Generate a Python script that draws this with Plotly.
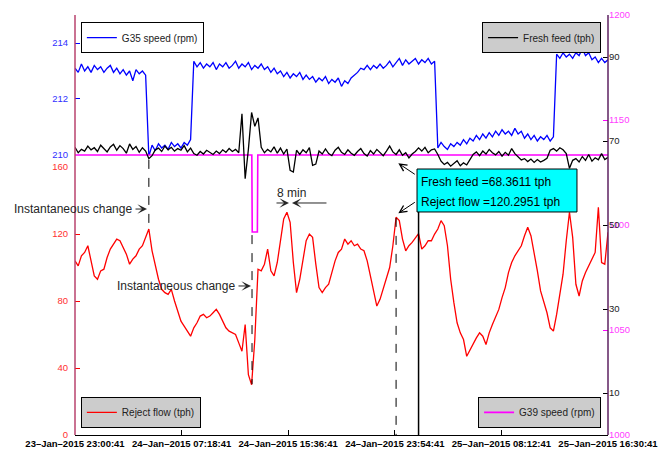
import pandas as pd
import plotly.graph_objects as go

# ---------------- data ----------------
start_time = "2015-01-23 23:00:41"      # first sample, 15-minute sampling
sample_minutes = 15
end_minutes = 2490

reject_flow = [
    104, 101, 107, 109, 113, 104, 95, 93, 98, 99,
    106, 111, 114, 117, 116, 112, 108, 102, 105, 107,
    111, 113, 118, 123, 110, 101, 93, 87, 85, 84,
    87, 80, 74, 68, 65, 62, 59, 64, 67, 71,
    72, 70, 71, 73, 75, 72, 68, 64, 62, 61,
    60, 55, 50, 66, 36, 30, 57, 99, 98, 102,
    111, 98, 95, 103, 115, 129, 133, 127, 103, 85,
    93, 106, 116, 120, 118, 102, 88, 85, 88, 90,
    97, 104, 109, 111, 117, 114, 116, 113, 114, 111,
    110, 104, 95, 86, 77, 81, 87, 94, 100, 113,
    130, 128, 117, 110, 113, 115, 118, 120.2951, 111, 113,
    116, 116, 120, 123, 128, 125, 113, 93, 79, 67,
    61, 57, 47, 51, 55, 58, 61, 59, 54, 61,
    66, 70, 75, 82, 88, 97, 103, 107, 110, 113,
    119, 124, 119, 109, 98, 86, 80, 73, 64, 62,
    72, 83, 96, 116, 133, 118, 90, 83, 92, 97,
    101, 104, 109, 136, 103, 102, 121,
]

g35_speed = [
    213.10, 212.95, 213.25, 213.00, 213.15, 212.95, 213.20, 213.05, 213.15, 212.95,
    213.10, 213.20, 212.95, 213.10, 212.90, 213.05, 212.85, 213.00, 212.65, 213.05,
    212.90, 213.00, 212.85,
    209.95, 210.35, 210.15, 210.40, 210.25, 210.35, 210.20, 210.45, 210.30, 210.40,
    210.25, 210.45, 210.35, 210.55,
    213.35, 213.15, 213.30, 213.10, 213.25, 213.15, 213.30, 213.05, 213.25, 213.15,
    213.30, 213.10, 213.20, 213.35, 213.10, 213.25, 213.15, 213.30, 213.05, 213.20,
    213.10, 213.25, 213.05, 213.15, 212.95, 213.10, 212.90, 213.00, 212.80, 212.95,
    212.75, 212.90, 212.80, 212.95, 212.70, 212.85, 212.70, 212.80, 212.60, 212.75,
    212.65, 212.80, 212.55, 212.70, 212.60, 212.75, 212.45, 212.65, 212.55, 212.75,
    212.85, 212.95, 213.10, 213.05, 213.20, 213.05, 213.20, 213.10, 213.25, 213.10,
    213.20, 213.35, 213.15, 213.30, 213.45, 213.20, 213.40, 213.25, 213.35, 213.45,
    213.25, 213.40, 213.30, 213.45, 213.25, 213.35,
    210.25, 210.45, 210.30, 210.20, 210.40, 210.30, 210.45, 210.35, 210.55, 210.40,
    210.60, 210.50, 210.70, 210.55, 210.75, 210.60, 210.80, 210.65, 210.85, 210.70,
    210.90, 210.75, 210.85, 210.70, 210.95, 210.75, 210.85, 210.60, 210.75, 210.55,
    210.70, 210.50, 210.65, 210.55, 210.70, 210.50, 210.65,
    213.60, 213.45, 213.65, 213.50, 213.60, 213.45, 213.65, 213.55, 213.80, 213.55,
    213.65, 213.40, 213.50, 213.30, 213.45, 213.30, 213.40,
]

fresh_feed = [
    68.5, 67.2, 68.0, 67.6, 68.8, 67.9, 68.4, 67.5, 69.0, 68.1,
    67.4, 68.6, 69.2, 67.8, 68.9, 68.2, 67.1, 69.3, 68.0, 68.7,
    67.3, 68.4, 67.6, 65.8, 66.5, 67.9, 68.3, 67.5, 68.8, 67.9,
    68.5, 67.6, 68.2, 67.8, 68.9, 67.4, 68.3, 67.0, 66.6, 67.5,
    66.9, 67.8, 67.2, 66.8, 67.6, 67.0, 67.9, 67.3, 68.2, 67.5,
    68.0, 67.2, 76.5, 61.0, 68.0, 76.8, 73.5, 75.5, 68.5, 67.2,
    68.0, 67.4, 68.6, 67.1, 68.3, 66.9, 68.1, 63.0, 62.6, 67.8,
    66.8, 67.9, 67.2, 68.4, 64.2, 64.5, 67.6, 66.9, 68.1, 67.0,
    66.5, 67.8, 68.5, 67.3, 66.8, 67.9, 67.1, 66.6, 67.5, 68.2,
    67.0, 66.4, 67.7, 66.9, 68.0, 67.3, 66.5, 67.6, 68.8, 67.4,
    66.8, 67.9, 66.6, 67.2, 66.0, 66.9, 67.5, 68.3611, 67.6, 68.5,
    67.2, 67.9, 68.1, 66.8, 65.2, 64.4, 64.9, 64.0, 64.6, 65.3,
    64.1, 64.8, 64.3, 65.6, 66.8, 67.4, 66.5, 67.6, 66.9, 68.0,
    67.2, 66.7, 67.5, 66.4, 67.3, 66.6, 68.2, 67.0, 66.3, 65.5,
    65.8, 65.1, 65.7, 64.9, 65.6, 65.0, 65.4, 65.9, 67.8, 68.2,
    67.6, 68.4, 67.9, 67.0, 63.5, 65.4, 65.8, 65.0, 66.3, 65.4,
    66.8, 65.2, 66.0, 65.5, 67.0, 65.6, 66.1,
]

# G39 speed is flat with one short dip: breakpoints (minutes from start)
g39_minutes = [0, 826, 828, 852, 854, 2490]
g39_speed = [1133.3, 1133.3, 1096.7, 1096.7, 1133.3, 1133.3]

tick_minutes = [0, 498, 996, 1494, 1992, 2490]
tick_labels = [
    "23–Jan–2015 23:00:41", "24–Jan–2015 07:18:41", "24–Jan–2015 15:36:41",
    "24–Jan–2015 23:54:41", "25–Jan–2015 08:12:41", "25–Jan–2015 16:30:41",
]

# event markers (minutes from start)
g35_step_min = 345
g39_dip_min = 827
reject_peak_min = 1500
cursor_min = 1605
cursor_feed = fresh_feed[cursor_min // sample_minutes]
cursor_reject = reject_flow[cursor_min // sample_minutes]

# ---------------- figure ----------------
assert len(reject_flow) == len(g35_speed) == len(fresh_feed)
t0 = pd.Timestamp(start_time)
times = pd.date_range(t0, periods=len(reject_flow), freq=f"{sample_minutes}min")
g39_times = [t0 + pd.Timedelta(minutes=m) for m in g39_minutes]
tm = lambda m: t0 + pd.Timedelta(minutes=m)

FONT = "Liberation Sans, Arial, Helvetica, sans-serif"

fig = go.Figure()
fig.add_trace(go.Scatter(x=times, y=reject_flow, name="Reject flow (tph)", mode="lines",
                         line=dict(color="#ff0000", width=1.3), yaxis="y", legend="legend3"))
fig.add_trace(go.Scatter(x=times, y=g35_speed, name="G35 speed (rpm)", mode="lines",
                         line=dict(color="#0000ff", width=1.3), yaxis="y2", legend="legend"))
fig.add_trace(go.Scatter(x=g39_times, y=g39_speed, name="G39 speed (rpm)", mode="lines",
                         line=dict(color="#ff00ff", width=1.6), yaxis="y3", legend="legend4"))
fig.add_trace(go.Scatter(x=times, y=fresh_feed, name="Fresh feed (tph)", mode="lines",
                         line=dict(color="#000000", width=1.3), yaxis="y4", legend="legend2"))

common_y = dict(showgrid=False, zeroline=False, showline=False, ticks="inside",
                ticklen=5, tickwidth=1, fixedrange=True, automargin=False)

# the page body adds an 8px offset, so the figure is 8px smaller than the window
fig.update_layout(
    width=659, height=441,
    margin=dict(l=67, r=59, t=7, b=14),
    paper_bgcolor="white", plot_bgcolor="rgba(0,0,0,0)",
    font=dict(family=FONT, size=10, color="#222222"),
    xaxis=dict(range=[tm(0), tm(end_minutes)], tickvals=[tm(m) for m in tick_minutes],
               ticktext=tick_labels, ticks="inside", ticklen=5, tickcolor="black",
               showline=True, linecolor="black", linewidth=1, showgrid=False,
               zeroline=False, anchor="y3", automargin=False, ticklabelstandoff=0,
               tickfont=dict(size=9.5, color="black", weight="bold", family=FONT)),
    yaxis=dict(domain=[0, 0.638], range=[0, 160], tickvals=[0, 40, 80, 120, 160],
               tickcolor="#ff0000", tickfont=dict(color="#ff3030", size=9.5),
               anchor="x", side="left", ticklabelstandoff=6, **common_y),
    yaxis2=dict(domain=[0.6667, 1], range=[210, 215], tickvals=[210, 212, 214],
                tickcolor="#0000ff", tickfont=dict(color="#3030ff", size=9.5),
                anchor="x", side="left", ticklabelstandoff=6, **common_y),
    yaxis3=dict(domain=[0, 1], range=[1000, 1200], tickvals=[1000, 1050, 1100, 1150, 1200],
                tickcolor="#ff00ff", tickfont=dict(color="#ff40ff", size=9.5),
                anchor="x", side="right", **common_y),
    yaxis4=dict(overlaying="y3", range=[0, 100], tickvals=[10, 30, 50, 70, 90],
                tickcolor="black", tickfont=dict(color="#222222", size=9.5),
                anchor="x", side="right", **common_y),
    legend=dict(x=0.011, y=0.983, xanchor="left", yanchor="top", bgcolor="white",
                bordercolor="black", borderwidth=1, font=dict(size=10)),
    legend2=dict(x=0.987, y=0.983, xanchor="right", yanchor="top", bgcolor="#cccccc",
                 bordercolor="black", borderwidth=1, font=dict(size=10)),
    legend3=dict(x=0.011, y=0.017, xanchor="left", yanchor="bottom", bgcolor="#cccccc",
                 bordercolor="black", borderwidth=1, font=dict(size=10)),
    legend4=dict(x=0.987, y=0.017, xanchor="right", yanchor="bottom", bgcolor="#cccccc",
                 bordercolor="black", borderwidth=1, font=dict(size=10)),
    showlegend=True,
)

dash = dict(color="black", width=1, dash="dash")
shapes = [
    # axis lines
    dict(type="line", xref="paper", yref="paper", x0=0, x1=0, y0=0, y1=1,
         line=dict(color="#b8436e", width=1.5)),
    dict(type="line", xref="paper", yref="paper", x0=1, x1=1, y0=0, y1=1,
         line=dict(color="#5c2060", width=1.5)),
    # dashed event lines
    dict(type="line", xref="x", yref="paper", x0=tm(g35_step_min), x1=tm(g35_step_min),
         y0=0.655, y1=0.493, line=dash),
    dict(type="line", xref="x", yref="paper", x0=tm(g39_dip_min), x1=tm(g39_dip_min),
         y0=0.476, y1=0.121, line=dash),
    dict(type="line", xref="x", yref="paper", x0=tm(reject_peak_min), x1=tm(reject_peak_min),
         y0=0.517, y1=0, line=dash),
    # data cursor
    dict(type="line", xref="x", yref="paper", x0=tm(cursor_min), x1=tm(cursor_min),
         y0=0.531, y1=0, line=dict(color="black", width=1.5)),
    dict(type="rect", xref="paper", yref="paper", x0=0.6417, x1=0.9418, y0=0.531, y1=0.6333,
         fillcolor="#00ffff", line=dict(color="black", width=1), layer="above"),
]
fig.update_layout(shapes=shapes)

txt = dict(family=FONT, size=12, color="#262626")
ann = []
# Instantaneous change #1
ann.append(dict(xref="paper", yref="paper", x=0.1107, y=0.538, xanchor="right",
                yanchor="middle", text="Instantaneous change", showarrow=False, font=txt))
ann.append(dict(xref="paper", yref="paper", x=0.1351, y=0.538, ax=-13, ay=0, text="",
                showarrow=True, arrowhead=3, arrowsize=1.6, arrowwidth=1, arrowcolor="#262626",
                standoff=0, startstandoff=0))
# Instantaneous change #2
ann.append(dict(xref="paper", yref="paper", x=0.3039, y=0.3548, xanchor="right",
                yanchor="middle", text="Instantaneous change", showarrow=False, font=txt))
ann.append(dict(xref="paper", yref="paper", x=0.3302, y=0.3548, ax=-14, ay=0, text="",
                showarrow=True, arrowhead=3, arrowsize=1.6, arrowwidth=1, arrowcolor="#262626",
                standoff=0, startstandoff=0))
# 8 min
ann.append(dict(xref="paper", yref="paper", x=0.4053, y=0.5762, xanchor="center",
                yanchor="middle", text="8 min", showarrow=False, font=txt))
ann.append(dict(xref="paper", yref="paper", x=0.4015, y=0.5524, ax=-14, ay=0, text="",
                showarrow=True, arrowhead=3, arrowsize=1.6, arrowwidth=1, arrowcolor="#262626",
                standoff=0, startstandoff=0))
ann.append(dict(xref="paper", yref="paper", x=0.4071, y=0.5524, ax=36, ay=0, text="",
                showarrow=True, arrowhead=3, arrowsize=1.6, arrowwidth=1, arrowcolor="#262626",
                standoff=0, startstandoff=0))
# data cursor texts
ann.append(dict(xref="paper", yref="paper", x=0.6454, y=0.6024, xanchor="left",
                yanchor="middle", text=f"Fresh feed ={cursor_feed:.4f} tph",
                showarrow=False, font=dict(family=FONT, size=12, color="black")))
ann.append(dict(xref="paper", yref="paper", x=0.6454, y=0.5548, xanchor="left",
                yanchor="middle", text=f"Reject flow ={cursor_reject:.4f} tph",
                showarrow=False, font=dict(family=FONT, size=12, color="black")))
ann.append(dict(xref="paper", yref="paper", x=0.6066, y=0.6469, ax=18, ay=12, text="",
                showarrow=True, arrowhead=5, arrowsize=1.4, arrowwidth=1, arrowcolor="black",
                standoff=0, startstandoff=0))
ann.append(dict(xref="paper", yref="paper", x=0.6066, y=0.5279, ax=18, ay=-12, text="",
                showarrow=True, arrowhead=5, arrowsize=1.4, arrowwidth=1, arrowcolor="black",
                standoff=0, startstandoff=0))
fig.update_layout(annotations=ann)

fig.write_html("out.html")
